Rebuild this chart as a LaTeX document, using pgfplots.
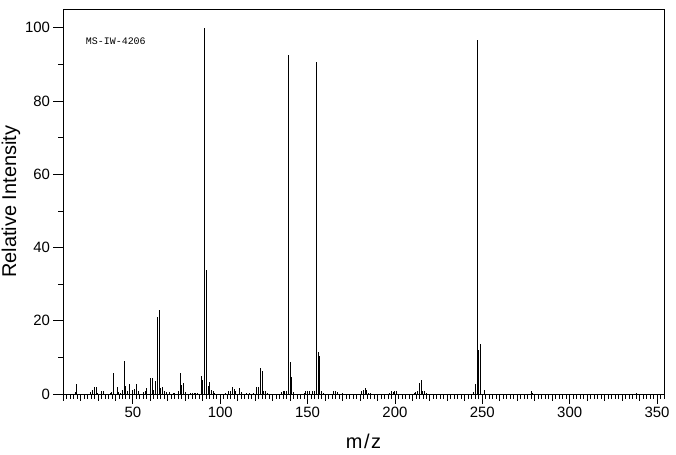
\documentclass[border=0pt]{standalone}
\usepackage{pgfplots}
\pgfplotsset{compat=1.18}
\usepackage{fontspec}
\setmainfont{Liberation Sans}
\setmonofont{Liberation Mono}
\begin{document}
\begin{tikzpicture}
\begin{axis}[
  scale only axis, width=601bp, height=384.5bp,
  xmin=10, xmax=354, ymin=0, ymax=105,
  axis line style={line width=0.8bp},
  every tick/.style={black, line width=0.8bp},
  tick align=outside, xtick pos=bottom, ytick pos=left,
  xtick={50,100,...,350}, ytick={0,20,...,100},
  minor xtick={10,12,...,354}, minor ytick={10,30,...,90},
  major tick length=9.5bp, minor tick length=4.5bp,
  extra x ticks={10,20,30,40,60,70,80,90,110,120,130,140,160,170,180,190,210,220,230,240,260,270,280,290,310,320,330,340},
  extra x tick labels={},
  extra x tick style={major tick length=6.5bp},
  tick label style={font=\fontsize{15}{17}\selectfont},
  /pgf/number format/assume math mode=true,
  label style={font=\fontsize{20}{24}\selectfont},
  xlabel={m\kern1.5bp/\kern1.5bp z},
  xlabel style={at={(axis description cs:0.5,0)}, anchor=base, yshift=-54bp},
  clip=false,
]
\addplot[ycomb, black, line width=1bp, mark=none] table {
x y
17 0.6
18 2.7
26 0.5
27 1.1
28 2.0
29 2.0
30 0.4
32 0.9
33 0.7
37 0.4
38 0.6
39 5.6
41 2.0
42 0.5
43 0.4
44 1.2
45 9.1
46 2.3
47 0.9
48 2.7
50 1.2
51 1.4
52 2.7
53 0.9
56 0.5
57 0.7
58 1.6
60 4.5
61 4.5
62 1.2
63 3.6
64 21.1
65 23.0
66 1.6
67 2.0
68 0.9
69 0.5
71 0.6
73 0.4
74 0.4
76 0.7
77 5.6
78 2.5
79 3.1
80 0.6
83 0.4
84 0.4
85 0.4
86 0.4
87 0.4
89 5.0
90 3.9
91 100
92 33.8
93 2.3
94 3.2
95 1.1
96 0.7
97 0.4
103 0.4
105 0.9
106 0.7
107 1.9
108 1.5
109 0.7
111 1.6
112 0.5
115 0.4
117 0.4
119 0.4
121 2.0
122 2.0
123 7.2
124 6.4
125 0.9
126 0.7
127 0.4
135 0.5
136 0.7
137 0.7
138 0.7
139 92.6
140 8.8
141 4.7
142 0.6
148 0.4
149 0.7
150 0.7
151 0.9
153 0.7
154 0.7
155 90.7
156 11.6
157 10.3
158 0.7
159 0.4
165 0.9
166 0.7
167 0.5
170 0.4
181 0.7
182 1.2
183 1.7
184 1.2
185 0.4
186 0.4
197 0.4
198 0.7
199 0.5
200 0.7
201 0.7
211 0.4
212 0.5
213 0.7
214 2.9
215 3.7
216 0.7
217 0.7
218 0.4
245 0.5
246 2.6
247 96.7
248 12.0
249 13.7
251 1.0
278 0.7
279 0.4
338 0.4
};
\node[anchor=west, inner sep=0pt, font=\fontsize{10}{12}\selectfont\ttfamily] at (axis cs:23,96.3) {MS-IW-4206};
\node[rotate=90, anchor=center, inner sep=0pt, font=\fontsize{20}{24}\selectfont] at ([xshift=-52bp]rel axis cs:0,0.5) {Relative Intensity};
\end{axis}
\pgfresetboundingbox
\path (current axis.south west) +(-63bp,-61bp) (current axis.north east) +(12bp,9.5bp);
\end{tikzpicture}
\end{document}
